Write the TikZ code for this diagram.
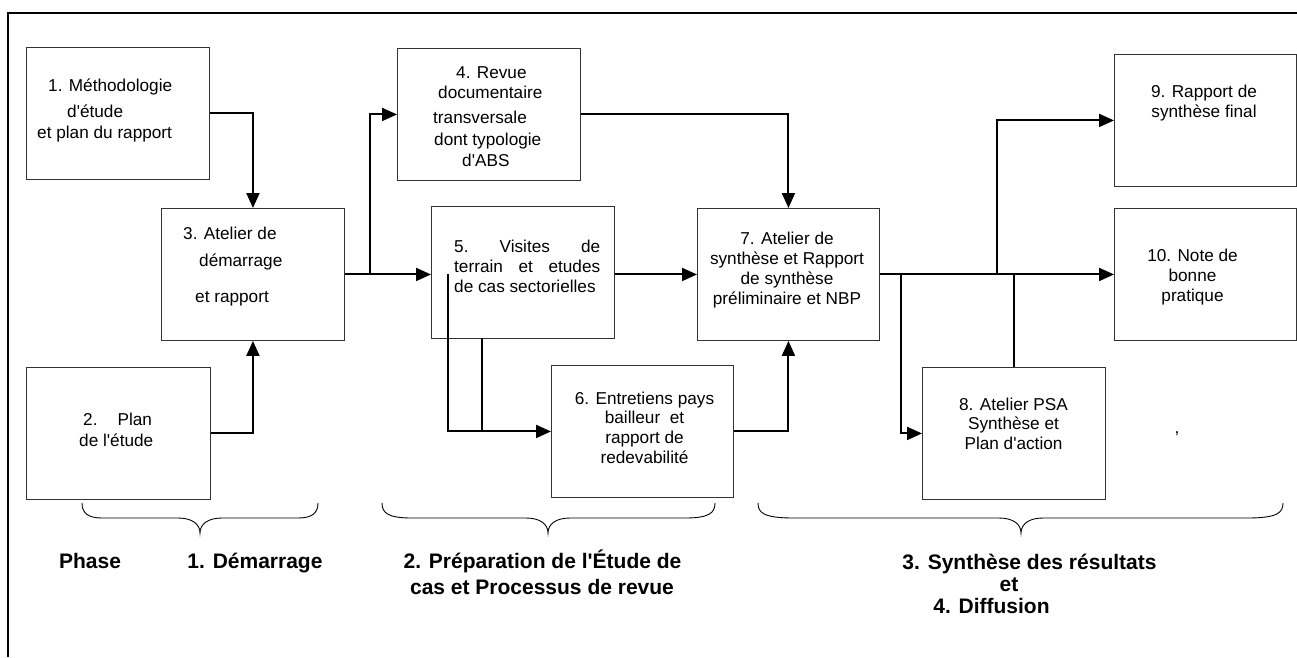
\documentclass[tikz,border=0pt]{standalone}
\usepackage{fontspec}
\setmainfont{Liberation Sans}
\usetikzlibrary{arrows.meta}

% straight apostrophe
\newcommand\apos{\textquotesingle}
% one line of box text, left-aligned on its baseline
\newcommand\txtL[4]{\node[lbl,anchor=base west] (#1) at (#2,#3) {#4};}
% one line of box text, centred on its baseline
\newcommand\txtC[4]{\node[lbl,anchor=base] (#1) at (#2,#3) {#4};}
% curly phase bracket: left x, tip x, right x, end curvature reach
\newcommand\phasebrace[4]{%
  \draw[bracket] (#1,503) .. controls (#1,513) and ({#1+6},518) .. ({#1+#4},518)
    -- ({#2-22},518) .. controls ({#2-8},518) and (#2,524) .. (#2,533)
    .. controls (#2,524) and ({#2+8},518) .. ({#2+22},518)
    -- ({#3-#4},518) .. controls ({#3-6},518) and (#3,513) .. (#3,503);}

\begin{document}
\begin{tikzpicture}[x=1pt,y=-1pt,
  stepbox/.style={draw=black!80, line width=0.9pt, inner sep=0pt, anchor=north west,
                  minimum height=132pt},
  wire/.style={line width=2pt},
  flow/.style={wire, -{Triangle[length=15pt,width=13pt]}},
  lbl/.style={inner sep=0pt, font=\fontsize{17.2}{20}\selectfont},
  phase/.style={inner sep=0pt, anchor=base, font=\fontsize{21}{26}\selectfont\bfseries},
  bracket/.style={line width=0.9pt}
]
\useasboundingbox (0,0) rectangle (1297,657);

% outer frame (top and left edges)
\draw[line width=2pt] (1297,13) -- (8,13) -- (8,657);

% process boxes
\node[stepbox, minimum width=183pt] (b1)  at (26,47)   {};
\node[stepbox, minimum width=184pt] (b2)  at (26,367)  {};
\node[stepbox, minimum width=183pt] (b3)  at (161,208) {};
\node[stepbox, minimum width=183pt] (b4)  at (397,48)  {};
\node[stepbox, minimum width=183pt] (b5)  at (431,206) {};
\node[stepbox, minimum width=182pt] (b6)  at (551,365) {};
\node[stepbox, minimum width=182pt] (b7)  at (697,208) {};
\node[stepbox, minimum width=183pt] (b8)  at (922,367) {};
\node[stepbox, minimum width=182pt] (b9)  at (1114,54) {};
\node[stepbox, minimum width=182pt] (b10) at (1114,208) {};

% box texts
\txtL{t1a}{48}{91}{1. Méthodologie}
\txtL{t1b}{67}{117}{d\apos étude}
\txtL{t1c}{37}{138}{et plan du rapport}

\txtL{t2a}{83}{425}{2.\hspace*{20pt}Plan}
\txtL{t2b}{79}{446}{de l\apos étude}

\txtL{t3a}{183}{239}{3. Atelier de}
\txtL{t3b}{199}{266}{démarrage}
\txtL{t3c}{195}{302}{et rapport}

\txtL{t4a}{456}{78}{4. Revue}
\txtL{t4b}{438}{98}{documentaire}
\txtL{t4c}{433}{123}{transversale}
\txtL{t4d}{434}{145}{dont typologie}
\txtL{t4e}{462}{166}{d\apos ABS}

\txtL{t5a}{454}{252}{\hbox to 146pt{5.\hfill Visites\hfill de}}
\txtL{t5b}{454}{272}{\hbox to 146pt{terrain\hfill et\hfill etudes}}
\txtL{t5c}{454}{292}{de cas sectorielles}

\txtC{t6a}{644.5}{404}{6. Entretiens pays}
\txtC{t6b}{644.5}{423}{bailleur\ \ et}
\txtC{t6c}{644.5}{443}{rapport de}
\txtC{t6d}{644.5}{463}{redevabilité}

\txtC{t7a}{787}{244}{7. Atelier de}
\txtC{t7b}{787}{264}{synthèse et Rapport}
\txtC{t7c}{787}{284}{de synthèse}
\txtC{t7d}{787}{304}{préliminaire et NBP}

\txtC{t8a}{1013.5}{410}{8. Atelier PSA}
\txtC{t8b}{1013.5}{429}{Synthèse et}
\txtC{t8c}{1013.5}{449}{Plan d\apos action}

\txtC{t9a}{1204}{97}{9. Rapport de}
\txtC{t9b}{1204}{117}{synthèse final}

\txtC{t10a}{1192.5}{261}{10. Note de}
\txtC{t10b}{1192.5}{281}{bonne}
\txtC{t10c}{1192.5}{301}{pratique}

\txtC{comma}{1177}{433}{,}

% junction points on the connectors
\coordinate (j1) at (370,274);
\coordinate (j2) at (448,274);
\coordinate (j3) at (482,338);
\coordinate (j4) at (997,274);
\coordinate (j5) at (901,274);

% connectors
\draw[flow] (b1.east) -| (b3.north);
\draw[flow] (b2.east) -| (b3.south);
\draw[flow] (b3.east) -- (b3.east -| b5.west);
\draw[flow] (j1) |- (b4.west);
\draw[flow] (b4.east) -| (b7.north);
\draw[flow] (b5.east |- b7.west) -- (b7.west);
\draw[flow] (j2) |- (b6.west);
\draw[wire] (j3) -- (j3 |- b6.west);
\draw[flow] (b6.east) -| (b7.south);
\draw[flow] (b7.east) -- (b10.west);
\draw[flow] (j4) |- (b9.west);
\draw[flow] (j5) |- (b8.west);
\draw[wire] (b8.north) -- (b8.north |- b7.east);

% phase brackets
\phasebrace{82}{200}{318}{20}
\phasebrace{382}{548}{715}{30}
\phasebrace{758}{1021}{1283}{36}

% phase labels
\node[phase] (ph0)  at (90,568)    {Phase};
\node[phase] (ph1)  at (255,568)   {1. Démarrage};
\node[phase] (ph2a) at (542.5,568) {2. Préparation de l\apos Étude de};
\node[phase] (ph2b) at (542,594)   {cas et Processus de revue};
\node[phase] (ph3a) at (1029.5,569) {3. Synthèse des résultats};
\node[phase] (ph3b) at (1009,591)  {et};
\node[phase] (ph3c) at (991.5,613) {4. Diffusion};
\end{tikzpicture}
\end{document}
